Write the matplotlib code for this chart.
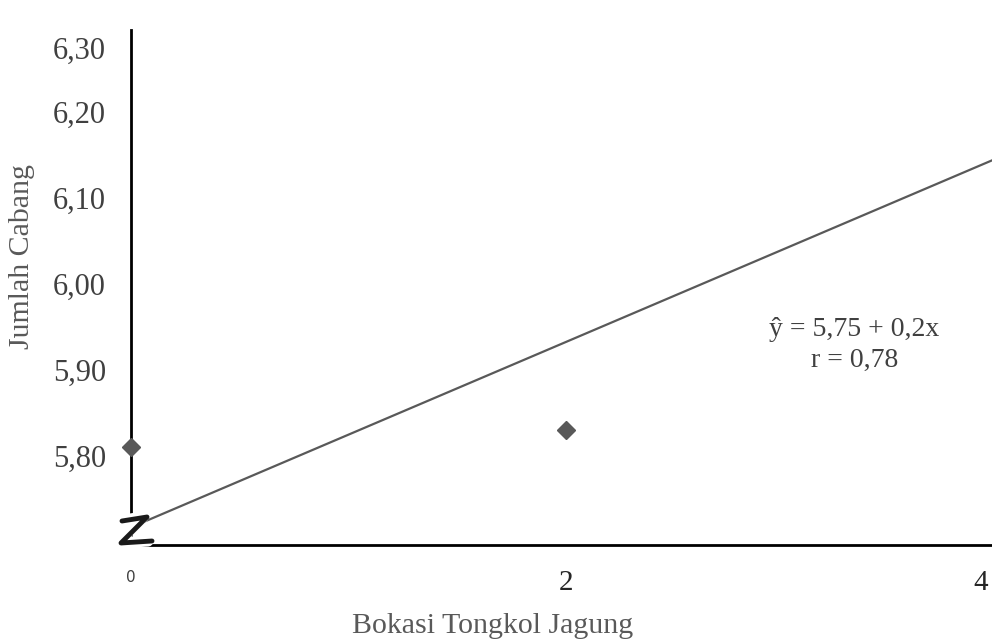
import numpy as np
import matplotlib
matplotlib.use('Agg')
import matplotlib.pyplot as plt

# data
dosis = [0, 2, 4]
cabang = [5.810, 5.830, 6.210]
garis_x = [0, 4]
garis_y = [5.717, 6.148]

ytick_pos = [5.80, 5.90, 6.00, 6.10, 6.20, 6.275]
ytick_lab = ['5,80', '5,90', '6,00', '6,10', '6,20', '6,30']
xtick_pos = [0, 2, 3.91]
xtick_lab = ['0', '2', '4']

plt.rcParams['font.family'] = ['Liberation Serif', 'DejaVu Serif']

fig = plt.figure(figsize=(9.92, 6.43), dpi=100)
ax = fig.add_axes([0.132, 0.1524, 0.868, 0.8006])

ax.plot(garis_x, garis_y, color='#595959', lw=1.6, zorder=2)
ax.plot(dosis, cabang, 'D', color='#595959', ms=9, zorder=3, clip_on=False)

ax.set_xlim(0, 3.96)
ax.set_ylim(5.6965, 6.295)

for s in ['top', 'right']:
    ax.spines[s].set_visible(False)
for s in ['left', 'bottom']:
    ax.spines[s].set_linewidth(2)
    ax.spines[s].set_color('black')

ax.set_yticks(ytick_pos)
ax.set_yticklabels(ytick_lab, fontsize=22, color='#404040')
ax.set_xticks(xtick_pos)
ax.set_xticklabels(xtick_lab, fontsize=21, color='#262626')
ax.tick_params(axis='y', length=0, pad=18)
ax.tick_params(axis='x', length=0, pad=18)
lab0 = ax.get_xticklabels()[0]
lab0.set_fontfamily('DejaVu Sans')
lab0.set_fontsize(11)
lab0.set_color('#404040')

ax.set_ylabel('Jumlah Cabang', fontsize=21.5, color='#595959')
ax.set_xlabel('Bokasi Tongkol Jagung', fontsize=21.5, color='#595959')
ax.xaxis.set_label_coords(0.42, -0.132)
ax.yaxis.set_label_coords(-0.112, 0.56)

ax.text(0.84, 0.388, 'ŷ = 5,75 + 0,2x\nr = 0,78', transform=ax.transAxes,
        fontsize=20, color='#404040', ha='center', va='center', linespacing=1.3)

# axis break mark
zx = np.array([122, 147, 121, 152]) / 992
zy = 1 - np.array([521, 517, 543, 541]) / 643
fig.add_artist(plt.Line2D(zx - 0.004, zy, transform=fig.transFigure,
                          color='white', lw=8, solid_capstyle='round'))
fig.add_artist(plt.Line2D(zx, zy, transform=fig.transFigure,
                          color='#1a1a1a', lw=3.5, solid_capstyle='round'))

fig.savefig('out.png', dpi=100, facecolor='white')
